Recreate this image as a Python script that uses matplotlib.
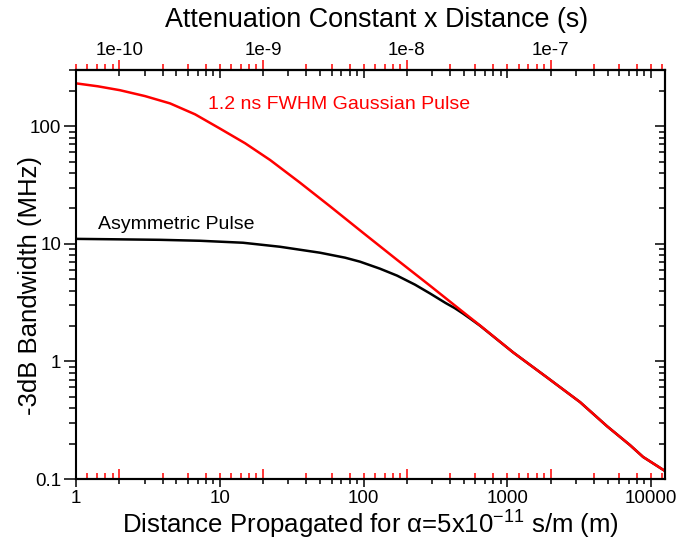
import numpy as np
import matplotlib
matplotlib.use("Agg")
import matplotlib.pyplot as plt
from matplotlib.ticker import FuncFormatter, NullFormatter

plt.rcParams['font.family'] = ['Liberation Sans', 'DejaVu Sans']
plt.rcParams['mathtext.fontset'] = 'custom'
plt.rcParams['mathtext.rm'] = 'Liberation Sans'
plt.rcParams['mathtext.it'] = 'Liberation Sans:italic'

# distance (m) and -3dB bandwidth (MHz)
gauss_x = [1, 1.42, 2.02, 3.02, 4.51, 6.73, 10.0, 15.0, 22.4, 36.2, 58.5, 100.8, 171, 290, 492,
           646, 1100, 1890, 3210, 4940, 7140, 8800, 12500]
gauss_y = [231, 218, 202, 180, 156, 126, 95.5, 71.5, 51.5, 33.0, 20.8, 12.2, 7.3, 4.4, 2.63,
           2.02, 1.19, 0.73, 0.45, 0.281, 0.194, 0.154, 0.117]

asym_x = [1, 2.02, 3.84, 7.3, 14.5, 26.2, 49.8, 74.5, 94.5, 130, 171, 228, 290, 373, 430, 492,
          560, 646, 1100, 1890, 3210, 4940, 7140, 8800, 12500]
asym_y = [11.0, 10.9, 10.8, 10.6, 10.2, 9.43, 8.39, 7.61, 7.04, 6.14, 5.36, 4.49, 3.78, 3.13, 2.84, 2.55,
          2.28, 2.01, 1.19, 0.73, 0.45, 0.281, 0.194, 0.154, 0.117]

alpha = 5e-11

fig = plt.figure(figsize=(6.86, 5.46), dpi=100)
ax = fig.add_axes([0.1108, 0.1227, 0.8586, 0.7491])

ax.plot(asym_x, asym_y, color="black", lw=1.8)
ax.plot(gauss_x, gauss_y, color="red", lw=1.8)
ax.set_xscale("log")
ax.set_yscale("log")
ax.set_xlim(1, 12500)
ax.set_ylim(0.1, 300)

for s in ax.spines.values():
    s.set_linewidth(1.5)

fmt = FuncFormatter(lambda v, p: f"{v:g}")
ax.xaxis.set_major_formatter(fmt)
ax.yaxis.set_major_formatter(fmt)
ax.xaxis.set_minor_formatter(NullFormatter())
ax.yaxis.set_minor_formatter(NullFormatter())
ax.tick_params(axis="x", which="major", direction="out", length=5.8, width=1.1, labelsize=13.5, pad=2, top=False)
ax.tick_params(axis="x", which="minor", direction="out", length=3.8, width=1.1, top=False)
ax.tick_params(axis="y", which="major", direction="out", length=8.5, width=1.1, labelsize=13.5, pad=2, right=False)
ax.tick_params(axis="y", which="minor", direction="out", length=5, width=1.1, right=False)

ax.set_xlabel("Distance Propagated for α=5x10$^{-11}$ s/m (m)", fontsize=18.5, labelpad=1.5)
ax.set_ylabel("-3dB Bandwidth (MHz)", fontsize=18.5)
ax.yaxis.set_label_coords(-0.058, 0.474)

fwd = (lambda x: x * alpha, lambda t: t / alpha)
same = (lambda x: x, lambda x: x)

# top axis: attenuation constant x distance, red ticks outward
top = ax.secondary_xaxis("top", functions=fwd)
top.xaxis.set_major_formatter(FuncFormatter(lambda v, p: f"1e{int(np.round(np.log10(v)))}"))
top.xaxis.set_minor_formatter(NullFormatter())
top.tick_params(which="major", direction="out", length=7, width=1.1, color="red", labelsize=13.5, pad=1)
top.tick_params(which="minor", direction="out", length=4.3, width=1.1, color="red")
top.set_xlabel("Attenuation Constant x Distance (s)", fontsize=19.4, labelpad=11)
top.xaxis.label.set_x(0.51)
top.xaxis.offsetText.set_visible(False)
top.spines["top"].set_linewidth(1.5)

# black distance ticks pointing in at the top
top_in = ax.secondary_xaxis("top", functions=same)
top_in.tick_params(which="major", direction="in", length=5.8, width=1.1, color="black", labeltop=False)
top_in.tick_params(which="minor", direction="in", length=4.3, width=1.1, color="black", labeltop=False)
top_in.xaxis.offsetText.set_visible(False)
top_in.spines["top"].set_linewidth(1.5)

# red attenuation ticks pointing in at the bottom
bot_in = ax.secondary_xaxis("bottom", functions=fwd)
bot_in.tick_params(which="major", direction="in", length=7, width=1.1, color="red", labelbottom=False)
bot_in.tick_params(which="minor", direction="in", length=4.3, width=1.1, color="red", labelbottom=False)
bot_in.xaxis.offsetText.set_visible(False)
bot_in.spines["bottom"].set_linewidth(1.5)

# right axis ticks pointing in
right_in = ax.secondary_yaxis("right", functions=same)
right_in.tick_params(which="major", direction="in", length=7, width=1.1, labelright=False)
right_in.tick_params(which="minor", direction="in", length=4.3, width=1.1, labelright=False)
right_in.yaxis.offsetText.set_visible(False)
right_in.spines["right"].set_linewidth(1.5)

ax.text(8.28, 153, "1.2 ns FWHM Gaussian Pulse", color="red", fontsize=14, ha="left", va="center")
ax.text(1.42, 14.5, "Asymmetric Pulse", color="black", fontsize=14, ha="left", va="center")

fig.savefig("out.png", dpi=100, facecolor="white")
